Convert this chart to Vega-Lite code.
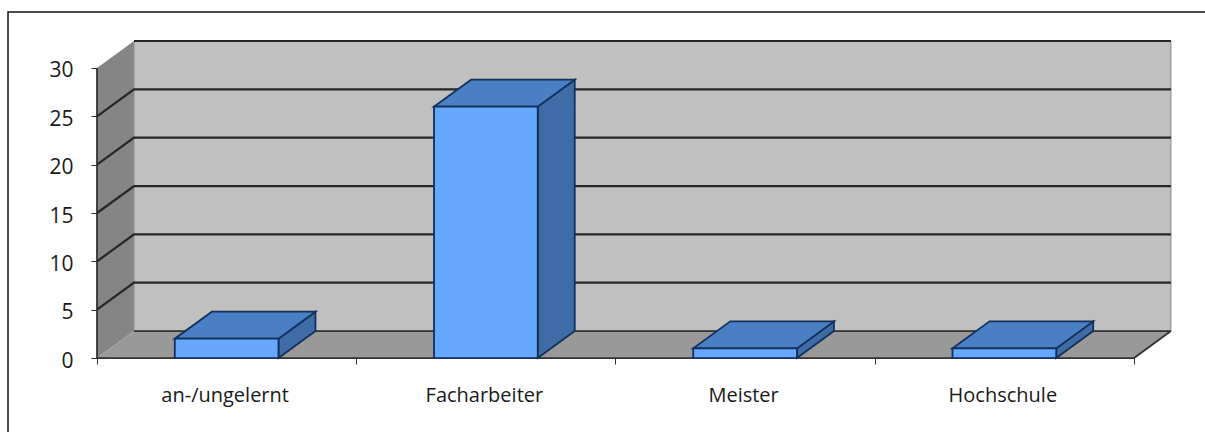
{
  "$schema": "https://vega.github.io/schema/vega-lite/v6.json",
  "width": 1205,
  "height": 432,
  "padding": 0,
  "autosize": {"type": "none"},
  "background": "white",
  "config": {"font": "Open Sans", "view": {"stroke": null}},
  "datasets": {
    "side": [
      {"a": 0, "lo": 0, "hi": 30},
      {"a": 0.1427, "lo": 2.79, "hi": 32.79}
    ],
    "wall": [
      {"a": 0.1427, "lo": 2.79, "hi": 32.79},
      {"a": 4.1427, "lo": 2.79, "hi": 32.79}
    ],
    "floor": [
      {"lo": 0, "l": 0, "r": 4},
      {"lo": 2.79, "l": 0.1427, "r": 4.1427}
    ],
    "grid": [
      {"level": 5, "a": 0, "v": 5}, {"level": 5, "a": 0.1427, "v": 7.79}, {"level": 5, "a": 4.1427, "v": 7.79},
      {"level": 10, "a": 0, "v": 10}, {"level": 10, "a": 0.1427, "v": 12.79}, {"level": 10, "a": 4.1427, "v": 12.79},
      {"level": 15, "a": 0, "v": 15}, {"level": 15, "a": 0.1427, "v": 17.79}, {"level": 15, "a": 4.1427, "v": 17.79},
      {"level": 20, "a": 0, "v": 20}, {"level": 20, "a": 0.1427, "v": 22.79}, {"level": 20, "a": 4.1427, "v": 22.79},
      {"level": 25, "a": 0, "v": 25}, {"level": 25, "a": 0.1427, "v": 27.79}, {"level": 25, "a": 4.1427, "v": 27.79},
      {"level": 30, "a": 0.1427, "v": 32.79}, {"level": 30, "a": 4.1427, "v": 32.79}
    ],
    "edges": [
      {"edge": "front", "a": 0, "v": 0}, {"edge": "front", "a": 4, "v": 0}, {"edge": "front", "a": 4.1427, "v": 2.79},
      {"edge": "left", "a": 0, "v": 0}, {"edge": "left", "a": 0, "v": 30},
      {"edge": "back", "a": 0.1427, "v": 2.79}, {"edge": "back", "a": 4.1427, "v": 2.79}
    ],
    "bars": [
      {"name": "an-/ungelernt", "x0": 0.3, "x1": 0.7, "mid": 0.5, "value": 2, "base": 0},
      {"name": "Facharbeiter", "x0": 1.3, "x1": 1.7, "mid": 1.5, "value": 26, "base": 0},
      {"name": "Meister", "x0": 2.3, "x1": 2.7, "mid": 2.5, "value": 1, "base": 0},
      {"name": "Hochschule", "x0": 3.3, "x1": 3.7, "mid": 3.5, "value": 1, "base": 0}
    ],
    "tops": [
      {"name": "an-/ungelernt", "level": 2, "l": 0.3, "r": 0.7},
      {"name": "an-/ungelernt", "level": 4.79, "l": 0.4427, "r": 0.8427},
      {"name": "Facharbeiter", "level": 26, "l": 1.3, "r": 1.7},
      {"name": "Facharbeiter", "level": 28.79, "l": 1.4427, "r": 1.8427},
      {"name": "Meister", "level": 1, "l": 2.3, "r": 2.7},
      {"name": "Meister", "level": 3.79, "l": 2.4427, "r": 2.8427},
      {"name": "Hochschule", "level": 1, "l": 3.3, "r": 3.7},
      {"name": "Hochschule", "level": 3.79, "l": 3.4427, "r": 3.8427}
    ],
    "sides": [
      {"name": "an-/ungelernt", "a": 0.7, "lo": 0, "hi": 2},
      {"name": "an-/ungelernt", "a": 0.8427, "lo": 2.79, "hi": 4.79},
      {"name": "Facharbeiter", "a": 1.7, "lo": 0, "hi": 26},
      {"name": "Facharbeiter", "a": 1.8427, "lo": 2.79, "hi": 28.79},
      {"name": "Meister", "a": 2.7, "lo": 0, "hi": 1},
      {"name": "Meister", "a": 2.8427, "lo": 2.79, "hi": 3.79},
      {"name": "Hochschule", "a": 3.7, "lo": 0, "hi": 1},
      {"name": "Hochschule", "a": 3.8427, "lo": 2.79, "hi": 3.79}
    ],
    "frame": [
      {"step": 1, "a": -0.3433, "v": -7.65},
      {"step": 2, "a": -0.3433, "v": 35.79},
      {"step": 3, "a": 4.274, "v": 35.79}
    ]
  },
  "data": {"name": "bars"},
  "layer": [
    {
      "data": {"name": "frame"},
      "mark": {"type": "line", "color": "#111111", "strokeWidth": 1.5},
      "encoding": {
        "x": {
          "field": "a",
          "type": "quantitative",
          "scale": {"domain": [-0.3742, 4.274], "nice": false, "zero": false},
          "axis": {"orient": "bottom", "offset": -74, "values": [0, 1, 2, 3, 4], "labels": false, "domain": false, "grid": false, "ticks": true, "tickColor": "#333333", "tickSize": 6, "tickWidth": 1, "title": null}
        },
        "y": {
          "field": "v",
          "type": "quantitative",
          "scale": {"domain": [-7.65, 37.03], "nice": false, "zero": false},
          "axis": {"orient": "left", "offset": -97, "values": [0, 5, 10, 15, 20, 25, 30], "domain": false, "grid": false, "tickColor": "#333333", "tickSize": 6, "tickWidth": 1, "labelFontSize": 21, "labelColor": "#1a1a1a", "labelPadding": 18, "labelOffset": 3, "title": null}
        },
        "order": {"field": "step"}
      }
    },
    {
      "data": {"name": "side"},
      "mark": {"type": "area", "color": "#858585", "orient": "vertical"},
      "encoding": {
        "x": {"field": "a", "type": "quantitative"},
        "y": {"field": "lo", "type": "quantitative"},
        "y2": {"field": "hi"}
      }
    },
    {
      "data": {"name": "wall"},
      "mark": {"type": "area", "color": "#c0c0c0", "orient": "vertical", "stroke": "#8c8c8c", "strokeWidth": 1},
      "encoding": {
        "x": {"field": "a", "type": "quantitative"},
        "y": {"field": "lo", "type": "quantitative"},
        "y2": {"field": "hi"}
      }
    },
    {
      "data": {"name": "floor"},
      "mark": {"type": "area", "color": "#999999", "orient": "horizontal"},
      "encoding": {
        "y": {"field": "lo", "type": "quantitative"},
        "x": {"field": "l", "type": "quantitative"},
        "x2": {"field": "r"}
      }
    },
    {
      "data": {"name": "grid"},
      "mark": {"type": "line", "color": "#262626", "strokeWidth": 2.2},
      "encoding": {
        "x": {"field": "a", "type": "quantitative"},
        "y": {"field": "v", "type": "quantitative"},
        "detail": {"field": "level"}
      }
    },
    {
      "data": {"name": "edges"},
      "mark": {"type": "line", "color": "#333333", "strokeWidth": 1.8},
      "encoding": {
        "x": {"field": "a", "type": "quantitative"},
        "y": {"field": "v", "type": "quantitative"},
        "detail": {"field": "edge"}
      }
    },
    {
      "data": {"name": "sides"},
      "mark": {"type": "area", "color": "#3f6ca6", "orient": "vertical", "stroke": "#12305c", "strokeWidth": 1.8},
      "encoding": {
        "x": {"field": "a", "type": "quantitative"},
        "y": {"field": "lo", "type": "quantitative"},
        "y2": {"field": "hi"},
        "detail": {"field": "name"}
      }
    },
    {
      "data": {"name": "tops"},
      "mark": {"type": "area", "color": "#4a7fc4", "orient": "horizontal", "stroke": "#12305c", "strokeWidth": 1.8},
      "encoding": {
        "y": {"field": "level", "type": "quantitative"},
        "x": {"field": "l", "type": "quantitative"},
        "x2": {"field": "r"},
        "detail": {"field": "name"}
      }
    },
    {
      "mark": {"type": "rect", "color": "#66a8ff", "stroke": "#12305c", "strokeWidth": 1.8},
      "encoding": {
        "x": {"field": "x0", "type": "quantitative"},
        "x2": {"field": "x1"},
        "y": {"field": "value", "type": "quantitative"},
        "y2": {"field": "base"}
      }
    },
    {
      "mark": {"type": "text", "fontSize": 20, "color": "#1a1a1a", "baseline": "middle", "dx": -1.5, "dy": 1},
      "encoding": {
        "x": {"field": "mid", "type": "quantitative"},
        "y": {"datum": -3.8, "type": "quantitative"},
        "text": {"field": "name"}
      }
    }
  ]
}
